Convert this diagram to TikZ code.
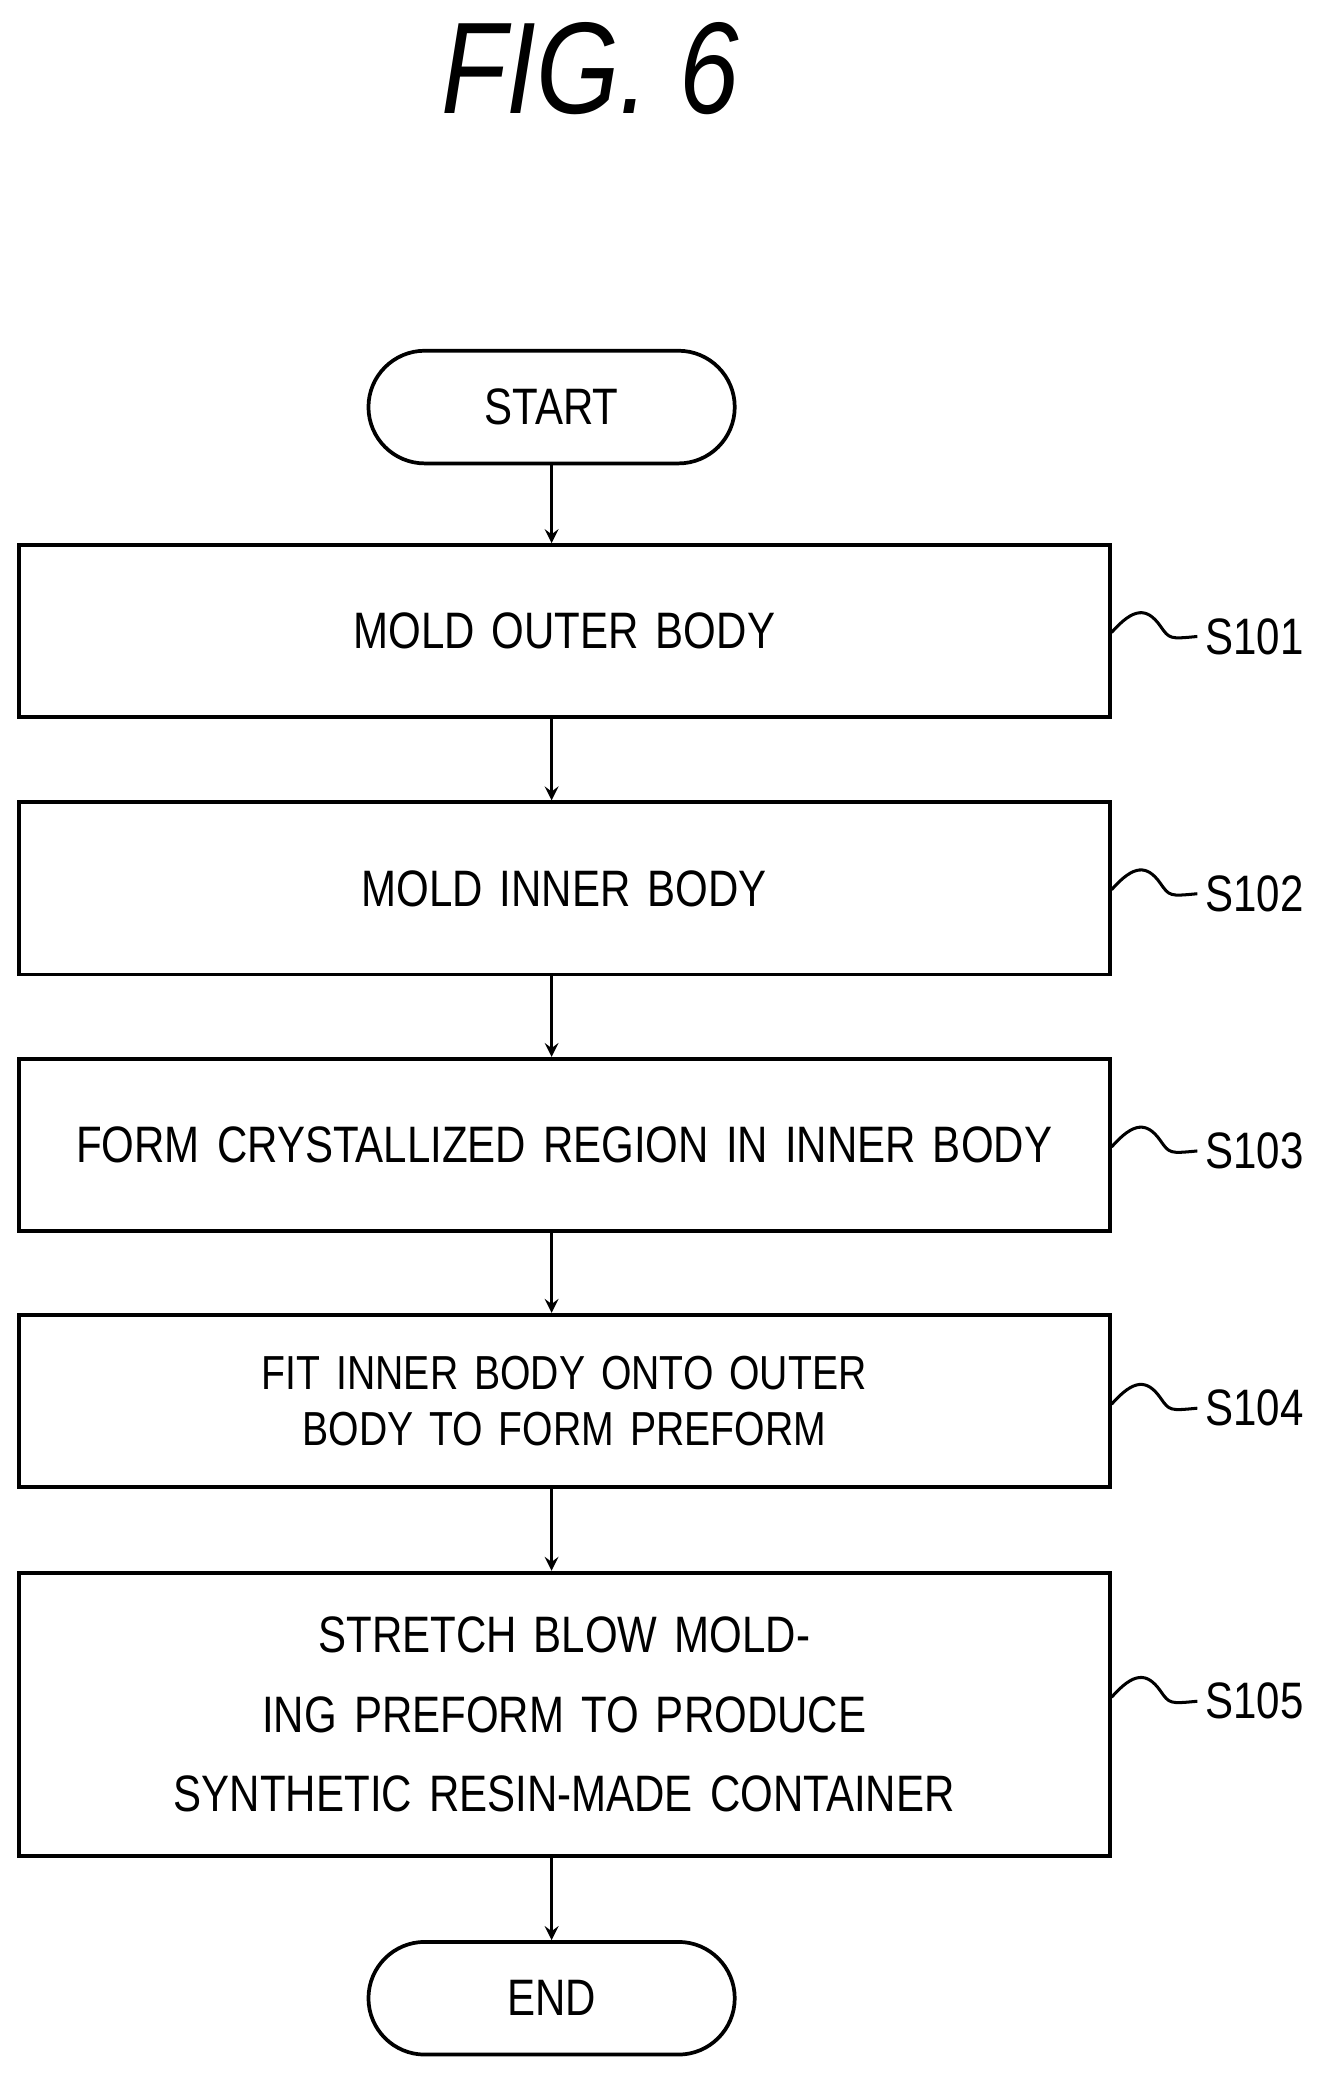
\documentclass[tikz,border=0pt]{standalone}
\usepackage{fontspec}
\setmainfont{Liberation Sans}[FakeStretch=0.82]
\usetikzlibrary{positioning,shapes.misc}
\tikzset{
  procbox/.style={draw,line width=1.6pt,minimum width=16.46cm,text width=16.2cm,inner sep=0pt,align=center,
    font=\fontsize{22}{34}\selectfont},
  term/.style={draw,line width=1.6pt,rounded rectangle,minimum width=5.76cm,minimum height=1.7cm,
    font=\fontsize{22}{26}\selectfont},
  flow/.style={->,line width=1.6pt,>=stealth},
  tag/.style={font=\fontsize{22}{26}\selectfont,anchor=west},
}
\begin{document}
\begin{tikzpicture}[x=0.02cm,y=-0.02cm]
\useasboundingbox (0,0) rectangle (1000,1583);

\node[font=\fontsize{56}{64}\selectfont\itshape] (title) at (445,52) {FIG. 6};

%% chart
\node[term] (start) at (416,307) {START};
\node[procbox,minimum height=2.6cm] (s1) at (425.5,476) {MOLD OUTER BODY};
\node[procbox,minimum height=2.6cm] (s2) at (425.5,670) {MOLD INNER BODY};
\node[procbox,minimum height=2.6cm] (s3) at (425.5,863.5) {FORM CRYSTALLIZED REGION IN INNER BODY};
\node[procbox,minimum height=2.6cm,font=\fontsize{20.5}{24}\selectfont] (s4) at (425.5,1056.5) {FIT INNER BODY ONTO OUTER BODY TO FORM PREFORM};
\node[procbox,minimum height=4.28cm] (s5) at (425.5,1293) {STRETCH BLOW MOLDING PREFORM TO PRODUCE\\SYNTHETIC RESIN-MADE CONTAINER};
\node[term] (end) at (416,1507) {END};

\foreach \a/\b in {start/s1,s1/s2,s2/s3,s3/s4,s4/s5,s5/end}
  \draw[flow] (\a.south -| start) -- (\b.north -| start);

%% step tags
\foreach \s/\y/\t in {s1/480/S101,s2/674/S102,s3/868/S103,s4/1062/S104,s5/1283/S105}{
  \node[tag] (t\s) at (903,\y) {\t};
  \draw[line width=1.3pt] (\s.east |- 0,\y-3) .. controls (855,\y-22) and (865,\y-22) .. (875,\y-8)
    .. controls (882,\y+2) .. (t\s.west);
}
\end{tikzpicture}
\end{document}
